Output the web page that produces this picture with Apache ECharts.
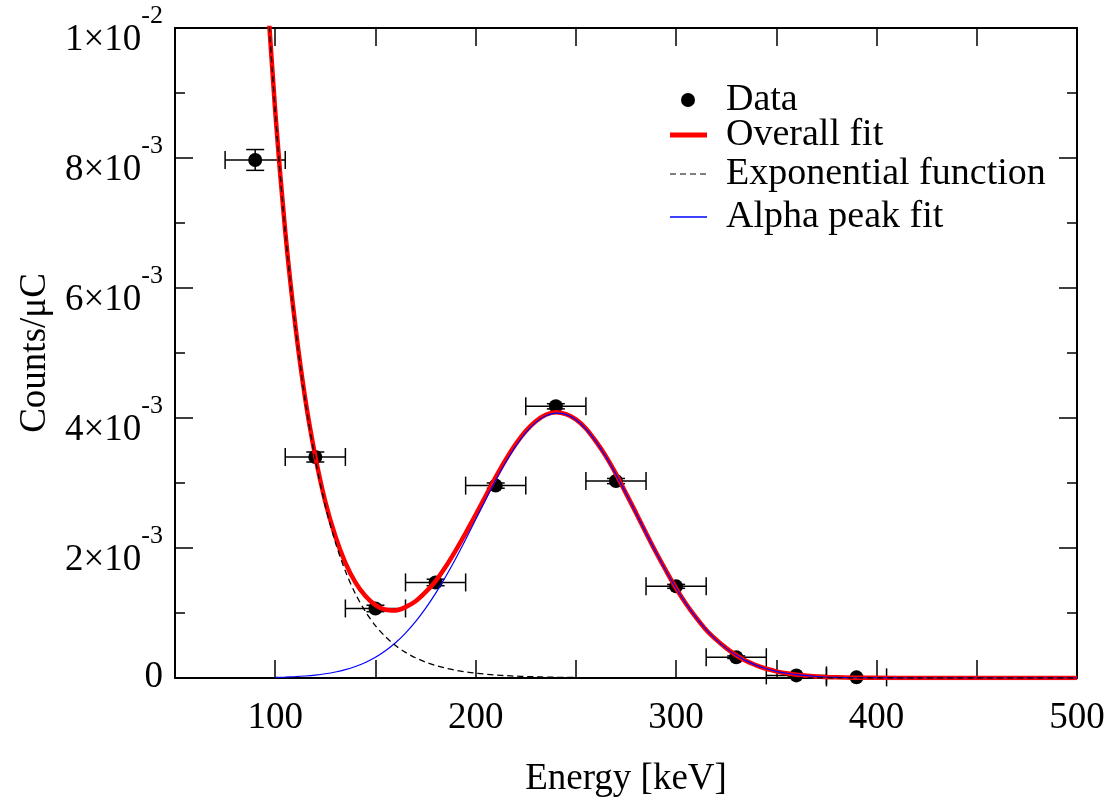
<!DOCTYPE html>
<html>
<head>
<meta charset="utf-8">
<script src="https://cdn.jsdelivr.net/npm/echarts@6/dist/echarts.min.js"></script>
<style>
  html, body { margin: 0; padding: 0; background: #fff; }
  #chart { width: 1117px; height: 803px; }
</style>
</head>
<body>
<div id="chart"></div>
<script>
// Measured spectrum (counts in units of 1e-3 counts/µC)
const dataEnergy = [90, 120, 150, 180, 210, 240, 270, 300, 330, 360, 390];
const dataCounts = [7.97, 3.40, 1.07, 1.47, 2.96, 4.18, 3.03, 1.41, 0.32, 0.04, 0.01];
const dataEnergyErr = [15, 15, 15, 15, 15, 15, 15, 15, 15, 15, 15];
const dataCountsErr = [0.16, 0.077, 0.05, 0.05, 0.04, 0.04, 0.04, 0.03, 0.02, 0.01, 0.01];

// Energy grid (keV) on which the fitted curves are sampled
const fitEnergy = [
  90, 95, 100, 105, 110, 115, 120, 125, 130, 135, 140, 145, 150, 155, 160, 165,
  170, 175, 180, 185, 190, 195, 200, 205, 210, 215, 220, 225, 230, 235, 240, 245,
  250, 255, 260, 265, 270, 275, 280, 285, 290, 295, 300, 305, 310, 315, 320, 325,
  330, 335, 340, 345, 350, 355, 360, 370, 380, 390, 400, 420, 450, 500
];
// Exponential background + alpha peak
const overallFit = [
  14.02, 11.06, 8.72, 6.87, 5.43, 4.29, 3.41, 2.71, 2.18, 1.77, 1.47, 1.26, 1.12, 1.05, 1.04, 1.09,
  1.18, 1.32, 1.49, 1.71, 1.96, 2.23, 2.51, 2.80, 3.09, 3.36, 3.60, 3.80, 3.95, 4.05, 4.09, 4.06,
  3.98, 3.84, 3.64, 3.41, 3.14, 2.84, 2.54, 2.23, 1.93, 1.65, 1.38, 1.14, 0.93, 0.74, 0.59, 0.46,
  0.35, 0.26, 0.195, 0.142, 0.102, 0.073, 0.051, 0.023, 0.010, 0.004, 0.002, 0.0002, 0, 0
];
// Exponential background alone
const expFunction = [
  14.02, 11.05, 8.71, 6.86, 5.41, 4.26, 3.36, 2.648, 2.087, 1.645, 1.296, 1.022, 0.805, 0.635, 0.500, 0.394,
  0.311, 0.245, 0.193, 0.152, 0.120, 0.0945, 0.0745, 0.0587, 0.0462, 0.0364, 0.0287, 0.0226, 0.0178, 0.0141, 0.0111, 0.0087,
  0.0069, 0.0054, 0.0043, 0.0034, 0.0026, 0.0021, 0.0016, 0.0013, 0.0010, 0.0008, 0.0006, 0, 0, 0, 0, 0,
  0, 0, 0, 0, 0, 0, 0, 0, 0, 0, 0, 0, 0, 0
];
// Gaussian alpha peak alone
const alphaPeak = [
  null, null, 0.009, 0.014, 0.021, 0.031, 0.045, 0.065, 0.092, 0.128, 0.177, 0.239, 0.319, 0.419, 0.542, 0.691,
  0.866, 1.070, 1.301, 1.558, 1.836, 2.132, 2.438, 2.743, 3.041, 3.319, 3.567, 3.774, 3.933, 4.035, 4.076, 4.055,
  3.972, 3.831, 3.638, 3.402, 3.133, 2.840, 2.536, 2.229, 1.930, 1.645, 1.380, 1.141, 0.928, 0.744, 0.587, 0.456,
  0.349, 0.263, 0.195, 0.142, 0.102, 0.073, 0.051, 0.023, 0.010, 0.004, 0.002, 0.0002, 0, 0
];

const xTickLabels = ['100', '200', '300', '400', '500'];

const FONT = "'Liberation Serif', 'Times New Roman', serif";
const pairs = (xs, ys) => xs.map((x, i) => [x, ys[i]]);

const chart = echarts.init(document.getElementById('chart'), null, { renderer: 'canvas' });

function yLabel(v) {
  const k = Math.round(v);
  if (k === 0) return '{z|0}';
  if (k === 10) return '{b|1×10}{s|-2}';
  return '{b|' + k + '×10}{s|-3}';
}

const axisCommon = {
  axisLine: { show: true, onZero: false, lineStyle: { color: '#000', width: 2 } },
  axisTick: { show: true, inside: true, length: 18, lineStyle: { color: '#000', width: 1.5 } },
  splitLine: { show: false }
};

function errorBars(params, api) {
  const x = api.value(0), y = api.value(1), dx = api.value(2), dy = api.value(3);
  const l = api.coord([x - dx, y]), r = api.coord([x + dx, y]);
  const t = api.coord([x, y + dy]), b = api.coord([x, y - dy]);
  const cap = 9;
  const style = { stroke: '#000', lineWidth: 1.5 };
  const segs = [
    [l, r],
    [[l[0], l[1] - cap], [l[0], l[1] + cap]],
    [[r[0], r[1] - cap], [r[0], r[1] + cap]],
    [t, b],
    [[t[0] - cap, t[1]], [t[0] + cap, t[1]]],
    [[b[0] - cap, b[1]], [b[0] + cap, b[1]]]
  ];
  return {
    type: 'group',
    children: segs.map(s => ({
      type: 'line',
      shape: { x1: s[0][0], y1: s[0][1], x2: s[1][0], y2: s[1][1] },
      style: style
    }))
  };
}

const legendText = (pad) => ({
  fontFamily: FONT, fontSize: 38, color: '#000', padding: [0, 0, 0, pad]
});
const DASH_ICON = 'path://M0,0h6v1h-6zM10,0h6v1h-6zM20,0h6v1h-6zM30,0h6v1h-6z';

const option = {
  backgroundColor: '#fff',
  animation: false,
  grid: { left: 175, top: 28, width: 902, height: 652, containLabel: false },
  legend: [
    { data: ['Data'], left: 681, top: 81, itemWidth: 14, itemHeight: 14, icon: 'circle',
      itemGap: 0, padding: 0, textStyle: legendText(26) },
    { data: ['Overall fit'], left: 670, top: 116, itemWidth: 37, itemHeight: 5, icon: 'rect',
      itemGap: 0, padding: 0, textStyle: legendText(14) },
    { data: ['Exponential function'], left: 670, top: 155, itemWidth: 36, itemHeight: 1.7, icon: DASH_ICON,
      itemGap: 0, padding: 0, textStyle: legendText(15) },
    { data: ['Alpha peak fit'], left: 670, top: 198, itemWidth: 37, itemHeight: 1.5, icon: 'rect',
      itemGap: 0, padding: 0, textStyle: legendText(14) }
  ],
  xAxis: [
    Object.assign({}, axisCommon, {
      type: 'value', position: 'bottom', min: 50, max: 500, interval: 50,
      name: 'Energy [keV]', nameLocation: 'middle', nameGap: 83,
      nameTextStyle: { fontFamily: FONT, fontSize: 37, color: '#000' },
      axisLabel: {
        margin: 22, fontFamily: FONT, fontSize: 37, color: '#000',
        formatter: v => (xTickLabels.indexOf(String(v)) >= 0 ? String(v) : '')
      }
    }),
    Object.assign({}, axisCommon, {
      type: 'value', position: 'top', min: 50, max: 500, interval: 50,
      axisLabel: { show: false }
    })
  ],
  yAxis: [
    Object.assign({}, axisCommon, {
      type: 'value', position: 'left', min: 0, max: 10, interval: 2,
      minorTick: { show: true, splitNumber: 2, length: 10, lineStyle: { color: '#000', width: 1.5 } },
      minorSplitLine: { show: false },
      name: 'Counts/μC', nameLocation: 'middle', nameRotate: 90, nameGap: 121,
      nameTextStyle: { fontFamily: FONT, fontSize: 37, color: '#000' },
      axisLabel: {
        margin: 12, color: '#000', formatter: yLabel, padding: [6, 0, 0, 0],
        rich: {
          b: { fontFamily: FONT, fontSize: 37, color: '#000', padding: [19, 0, 0, 0], verticalAlign: 'bottom' },
          s: { fontFamily: FONT, fontSize: 26, color: '#000', verticalAlign: 'top' },
          z: { fontFamily: FONT, fontSize: 37, color: '#000', padding: [0, 0, 8, 0] }
        }
      }
    }),
    Object.assign({}, axisCommon, {
      type: 'value', position: 'right', min: 0, max: 10, interval: 2,
      minorTick: { show: true, splitNumber: 2, length: 10, lineStyle: { color: '#000', width: 1.5 } },
      axisLabel: { show: false }
    })
  ],
  series: [
    {
      name: 'Data errors', type: 'custom', xAxisIndex: 0, yAxisIndex: 0, z: 2,
      renderItem: errorBars,
      encode: { x: 0, y: 1 },
      data: dataEnergy.map((x, i) => [x, dataCounts[i], dataEnergyErr[i], dataCountsErr[i]])
    },
    {
      name: 'Data', type: 'scatter', xAxisIndex: 0, yAxisIndex: 0, z: 3,
      symbol: 'circle', symbolSize: 14, itemStyle: { color: '#000', opacity: 1 },
      data: pairs(dataEnergy, dataCounts)
    },
    {
      name: 'Overall fit', type: 'line', xAxisIndex: 0, yAxisIndex: 0, z: 4,
      showSymbol: false, symbol: 'none', smooth: 0.3, clip: true,
      lineStyle: { color: '#ff0000', width: 4.5 }, itemStyle: { color: '#ff0000' },
      data: pairs(fitEnergy, overallFit)
    },
    {
      name: 'Alpha peak fit', type: 'line', xAxisIndex: 0, yAxisIndex: 0, z: 5,
      showSymbol: false, symbol: 'none', smooth: 0.3, clip: true, connectNulls: false,
      lineStyle: { color: '#0000ff', width: 1.2 }, itemStyle: { color: '#0000ff' },
      data: pairs(fitEnergy, alphaPeak)
    },
    {
      name: 'Exponential function', type: 'line', xAxisIndex: 0, yAxisIndex: 0, z: 6,
      showSymbol: false, symbol: 'none', smooth: 0.3, clip: true,
      lineStyle: { color: '#000', width: 1.3, type: [6, 4] }, itemStyle: { color: '#000' },
      data: pairs(fitEnergy, expFunction)
    }
  ]
};

chart.setOption(option);
</script>
</body>
</html>
